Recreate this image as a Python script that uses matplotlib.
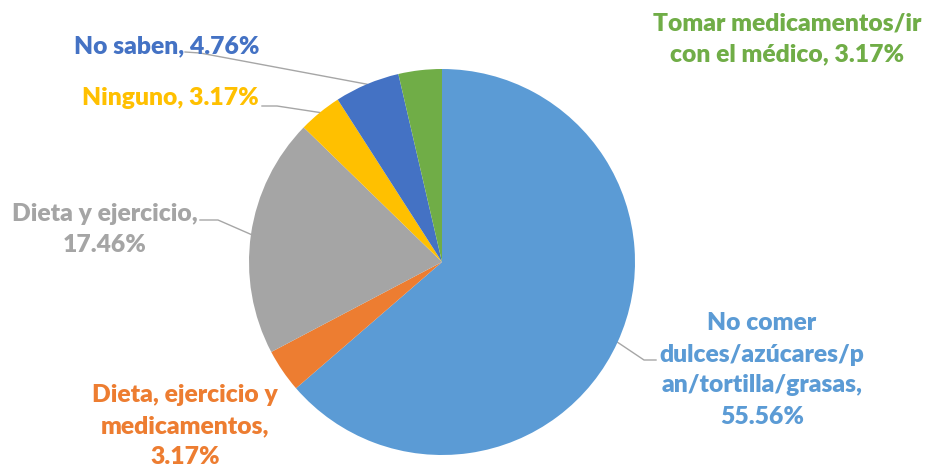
import numpy as np
import matplotlib
matplotlib.use("Agg")
from matplotlib import pyplot as plt

labels = ["No comer\ndulces/azúcares/p\nan/tortilla/grasas,\n55.56%",
          "Dieta, ejercicio y\nmedicamentos,\n3.17%",
          "Dieta y ejercicio,\n17.46%",
          "Ninguno, 3.17%",
          "No saben, 4.76%",
          "Tomar medicamentos/ir\ncon el médico, 3.17%"]
values = [55.56, 3.17, 17.46, 3.17, 4.76, 3.17]
colors = ["#5B9BD5", "#ED7D31", "#A5A5A5", "#FFC000", "#4472C4", "#70AD47"]

W, H = 928, 469
fig = plt.figure(figsize=(W/100.0, H/100.0), dpi=100)
ax = fig.add_axes([0, 0, 1, 1])

cx, cy, R = 442, H-262, 193
wedges, _ = ax.pie(values, colors=colors, startangle=90, counterclock=False,
                   center=(cx, cy), radius=R, frame=True,
                   wedgeprops=dict(linewidth=0))
ax.set_xlim(0, W)
ax.set_ylim(0, H)
ax.set_aspect("equal")
ax.axis("off")

# label placement (pixel coords, y from top) and elbow of leader line
lab_pos = [(762, 370, (656, 360), (644, 360)),
           (185, 426, None, None),
           (105, 229, (200, 220), (218, 220)),
           (170, 98, (262, 106), (277, 106)),
           (167, 46, (185, 52), (200, 53)),
           (787, 39, None, None)]

fs = 17.7
for w, lab, col, (lx, ly, p0, p1) in zip(wedges, labels, colors, lab_pos):
    ax.text(lx, H-ly, lab, ha="center", va="center", color=col, fontsize=fs,
            fontweight="heavy", family="Lato", linespacing=1.5)
    if p0 is not None:
        mid = np.deg2rad(0.5*(w.theta1 + w.theta2))
        ex, ey = cx + R*np.cos(mid), cy + R*np.sin(mid)
        ax.plot([p0[0], p1[0], ex], [H-p0[1], H-p1[1], ey], color="#A6A6A6",
                linewidth=1.0, zorder=0)

plt.savefig("out.png", dpi=100)
